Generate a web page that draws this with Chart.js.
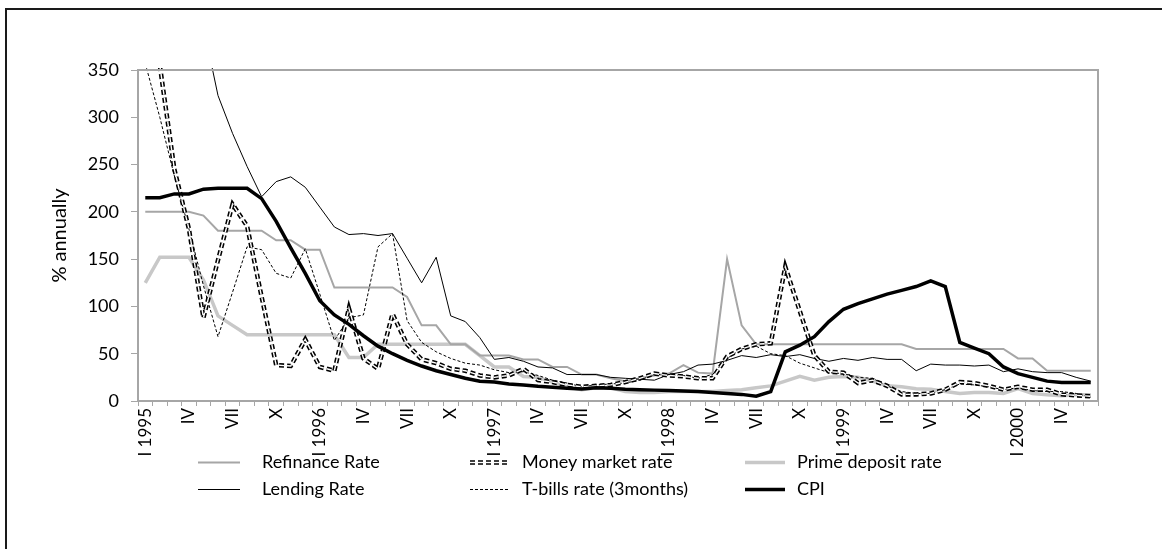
<!DOCTYPE html>
<html>
<head>
<meta charset="utf-8">
<title>Interest rates and CPI, 1995-2000</title>
<script src="https://cdn.jsdelivr.net/npm/chart.js@4.4.1/dist/chart.umd.min.js"></script>
<style>
  html, body { margin: 0; padding: 0; background: #fff; }
  #wrap { position: relative; width: 1162px; height: 549px; overflow: hidden; }
  #frame { position: absolute; left: 5px; top: 8px; width: 1200px; height: 600px;
           border-top: 2px solid #1a1a1a; border-left: 2px solid #1a1a1a; }
  #chart { position: absolute; left: 0; top: 0; }
</style>
</head>
<body>
<div id="wrap">
  <div id="frame"></div>
  <canvas id="chart" width="1162" height="549"></canvas>
</div>
<script>
// monthly, Jan 1995 .. Jun 2000
const monthLabels = [
  "I 1995", "", "", "IV", "", "", "VII", "", "", "X", "", "",
  "I 1996", "", "", "IV", "", "", "VII", "", "", "X", "", "",
  "I 1997", "", "", "IV", "", "", "VII", "", "", "X", "", "",
  "I 1998", "", "", "IV", "", "", "VII", "", "", "X", "", "",
  "I 1999", "", "", "IV", "", "", "VII", "", "", "X", "", "",
  "I 2000", "", "", "IV", "", ""
];

const refinanceRate = [
  200, 200, 200, 200, 196, 180, 180, 180, 180, 170, 170, 160,
  160, 120, 120, 120, 120, 120, 110, 80, 80, 60, 60, 48,
  48, 48, 44, 44, 36, 36, 28, 28, 24, 21, 24, 27,
  29, 38, 30, 29, 150, 80, 60, 60, 60, 60, 60, 60,
  60, 60, 60, 60, 60, 55, 55, 55, 55, 55, 55, 55,
  45, 45, 32, 32, 32, 32
];

const lendingRate = [
  480, 460, 440, 420, 396, 323, 283, 248, 216, 232, 237, 226,
  205, 184, 176, 177, 175, 177, 151, 125, 152, 90, 84, 67,
  44, 46, 42, 36, 35, 28, 28, 28, 25, 24, 23, 22,
  28, 31, 38, 39, 43, 48, 46, 49, 47, 49, 45, 42,
  45, 43, 46, 44, 44, 32, 39, 38, 38, 37, 38, 31,
  34, 31, 30, 30, 25, 21
];

const moneyMarketRate = [
  360, 355, 245, 182, 88, 149, 208, 185, 110, 38, 37, 65,
  36, 32, 98, 45, 34, 92, 60, 44, 40, 34, 32, 27,
  25, 27, 34, 22, 20, 17, 15, 16, 17, 20, 24, 29,
  27, 26, 24, 24, 47, 55, 60, 61, 142, 95, 48, 31,
  30, 19, 22, 16, 7, 7, 8, 12, 20, 19, 16, 12,
  15, 12, 12, 7, 6, 5
];

const tBillsRate = [
  357, 300, 238, 182, 122, 68, 115, 163, 160, 135, 130, 161,
  113, 64, 88, 91, 163, 177, 85, 62, 52, 45, 40, 38,
  33, 30, 31, 27, 22, 19, 15, 17, 18, 19, 22, 28,
  28, 27, 24, 28, 45, 55, 58, 50, 48, 40, 35, 30,
  29, 25, 24, 16, 10, 8, 8, 12, 18, 17, 15, 12,
  14, 11, 10, 10, 8, 4
];

const primeDepositRate = [
  125, 152, 152, 152, 128, 90, 80, 70, 70, 70, 70, 70,
  70, 70, 46, 46, 60, 60, 60, 60, 60, 60, 60, 48,
  36, 36, 26, 25, 20, 15, 12, 14, 14, 10, 9, 9,
  10, 10, 10, 10, 11, 12, 14, 16, 21, 26, 22, 25,
  26, 25, 21, 16, 15, 13, 12.5, 10, 8, 9, 9, 8,
  13, 8, 6.5, 5.5, 6.5, 6.5
];

const cpi = [
  215, 215, 219, 219, 224, 225, 225, 225, 214, 190, 162, 135,
  106, 91, 81, 69, 58, 50, 43, 37, 32, 28, 24, 21,
  20, 18, 17, 15.5, 14.5, 13.5, 12.7, 14, 13.5, 12.5, 12, 11.5,
  11, 10.5, 10, 9, 8, 7, 5, 10, 52, 59, 68, 84,
  97, 103, 108, 113, 117, 121, 127, 121, 62, 56, 50, 36,
  29, 25, 21, 19.5, 19.5, 19.5
];

const FONT = "Lato, 'Open Sans', sans-serif";
const AXIS_GREY = "#a6a6a6";

// legend slots: row-major, 3 columns x 2 rows
const legendRows = [462.5, 489.5];
const legendCols = [
  { x0: 198, x1: 240, tx: 262 },
  { x0: 470, x1: 508, tx: 522 },
  { x0: 745, x1: 785, tx: 797 },
];

function line(label, data, color, width, dash, order, extra) {
  return Object.assign({
    label, data,
    borderColor: color,
    backgroundColor: color,
    borderWidth: width,
    borderDash: dash || [],
    pointRadius: 0,
    pointHoverRadius: 0,
    tension: 0,
    fill: false,
    clip: 2,
    order,
  }, extra || {});
}

const datasets = [
  line("Refinance Rate", refinanceRate, AXIS_GREY, 2, null, 5, { legendSlot: 0 }),
  line("Money market rate", moneyMarketRate, "#000", 4.5, [5, 3], 2, { legendSlot: 1 }),
  // white core on the money market line -> double dashed look
  line("mm-core", moneyMarketRate, "#fff", 1.4, [5, 3], 1, { legendSlot: -1 }),
  line("Prime deposit rate", primeDepositRate, "#c8c8c8", 3.5, null, 6, { legendSlot: 2 }),
  line("Lending Rate", lendingRate, "#000", 1, null, 4, { legendSlot: 3 }),
  line("T-bills rate (3months)", tBillsRate, "#000", 1, [3, 2], 3, { legendSlot: 4 }),
  line("CPI", cpi, "#000", 3.5, null, 0, { legendSlot: 5 }),
];

const framePlugin = {
  id: "frame",
  afterDatasetsDraw(chart) {
    const { ctx, chartArea: a } = chart;
    ctx.save();
    ctx.strokeStyle = AXIS_GREY;
    ctx.lineWidth = 2;
    ctx.beginPath();
    ctx.moveTo(a.left, a.top);
    ctx.lineTo(a.right, a.top);
    ctx.lineTo(a.right, a.bottom);
    ctx.stroke();
    ctx.restore();
  },
  afterDraw(chart) {
    const ctx = chart.ctx;
    ctx.save();
    ctx.font = "18px " + FONT;
    ctx.textBaseline = "middle";
    ctx.fillStyle = "#000";
    chart.data.datasets.forEach((ds) => {
      if (ds.legendSlot < 0) return;
      const col = legendCols[ds.legendSlot % 3];
      const y = legendRows[Math.floor(ds.legendSlot / 3)];
      ctx.strokeStyle = ds.borderColor;
      ctx.lineWidth = ds.borderWidth;
      ctx.setLineDash(ds.borderDash);
      ctx.beginPath();
      ctx.moveTo(col.x0, y);
      ctx.lineTo(col.x1, y);
      ctx.stroke();
      if (ds.label === "Money market rate") {
        ctx.strokeStyle = "#fff";
        ctx.lineWidth = 1.4;
        ctx.beginPath();
        ctx.moveTo(col.x0, y);
        ctx.lineTo(col.x1, y);
        ctx.stroke();
      }
      ctx.setLineDash([]);
      ctx.fillText(ds.label, col.tx, y);
    });
    ctx.restore();
  },
};

new Chart(document.getElementById("chart"), {
  type: "line",
  data: { labels: monthLabels, datasets },
  options: {
    responsive: false,
    animation: false,
    devicePixelRatio: 1,
    layout: { padding: { top: 70, right: 64, left: 0, bottom: 0 } },
    plugins: { legend: { display: false }, tooltip: { enabled: false } },
    scales: {
      x: {
        offset: true,
        grid: { display: true, drawOnChartArea: false, drawTicks: true, tickLength: 5, color: AXIS_GREY, offset: true },
        border: { display: true, color: AXIS_GREY, width: 2 },
        ticks: {
          autoSkip: false, minRotation: 90, maxRotation: 90, padding: 2,
          color: "#000", font: { family: FONT, size: 17 },
        },
        afterFit(scale) { scale.height = 148; },
      },
      y: {
        min: 0, max: 350,
        ticks: { stepSize: 50, padding: 12, color: "#000", font: { family: FONT, size: 18 } },
        grid: { display: true, drawOnChartArea: false, drawTicks: true, tickLength: 7, color: AXIS_GREY },
        border: { display: true, color: AXIS_GREY, width: 2 },
        title: {
          display: true, text: "% annually", color: "#000",
          font: { family: FONT, size: 20 }, padding: { top: 48 },
        },
        afterFit(scale) { scale.width = 138; },
      },
    },
  },
  plugins: [framePlugin],
});
</script>
</body>
</html>
